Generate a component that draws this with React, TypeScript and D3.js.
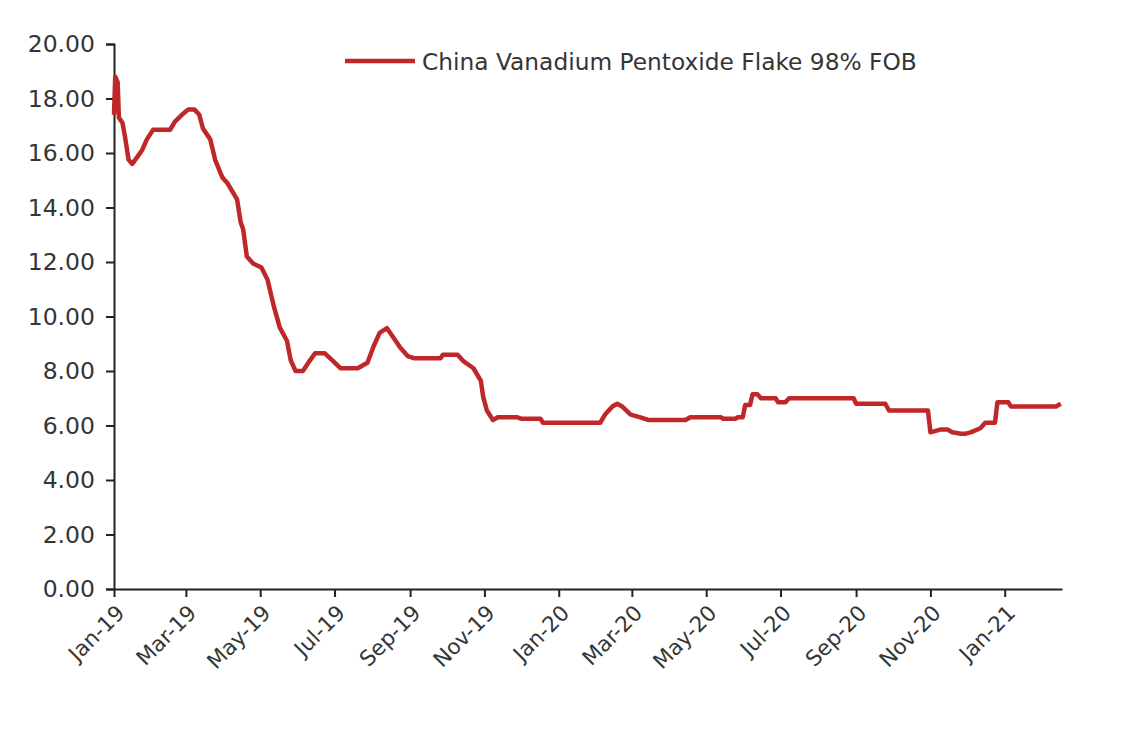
import React, { useRef, useEffect } from "react"
import * as d3 from "d3"

const SERIES_NAME = "China Vanadium Pentoxide Flake 98% FOB"

// roughly every turn of the line
const dates = [
  "2019-01-01", "2019-01-02", "2019-01-04", "2019-01-05", "2019-01-08", "2019-01-10",
  "2019-01-13", "2019-01-16", "2019-01-20", "2019-01-24", "2019-01-28", "2019-02-02",
  "2019-02-16", "2019-02-20", "2019-02-27", "2019-03-03", "2019-03-08", "2019-03-12",
  "2019-03-15", "2019-03-21", "2019-03-25", "2019-03-31", "2019-04-04", "2019-04-08",
  "2019-04-12", "2019-04-15", "2019-04-17", "2019-04-20", "2019-04-25", "2019-05-02",
  "2019-05-07", "2019-05-12", "2019-05-17", "2019-05-23", "2019-05-26", "2019-05-30",
  "2019-06-05", "2019-06-11", "2019-06-15", "2019-06-23", "2019-06-29", "2019-07-06",
  "2019-07-20", "2019-07-28", "2019-08-02", "2019-08-07", "2019-08-13", "2019-08-18",
  "2019-08-24", "2019-08-30", "2019-09-04", "2019-09-26", "2019-09-28", "2019-10-10",
  "2019-10-15", "2019-10-23", "2019-10-29", "2019-10-31", "2019-11-03", "2019-11-08",
  "2019-11-12", "2019-11-28", "2019-12-01", "2019-12-17", "2019-12-19", "2020-02-04",
  "2020-02-08", "2020-02-14", "2020-02-18", "2020-02-22", "2020-02-29", "2020-03-08",
  "2020-03-15", "2020-04-14", "2020-04-18", "2020-05-13", "2020-05-15", "2020-05-25",
  "2020-05-27", "2020-05-31", "2020-06-02", "2020-06-06", "2020-06-08", "2020-06-12",
  "2020-06-15", "2020-06-27", "2020-06-29", "2020-07-05", "2020-07-08", "2020-08-30",
  "2020-09-01", "2020-09-25", "2020-09-28", "2020-10-30", "2020-11-01", "2020-11-09",
  "2020-11-15", "2020-11-19", "2020-11-26", "2020-11-30", "2020-12-04", "2020-12-12",
  "2020-12-16", "2020-12-24", "2020-12-26", "2021-01-04", "2021-01-06", "2021-02-12",
  "2021-02-16",
]

const prices = [
  17.4, 18.8, 18.6, 17.3, 17.1, 16.6,
  15.75, 15.6, 15.85, 16.1, 16.5, 16.85,
  16.85, 17.15, 17.45, 17.6, 17.6, 17.4,
  16.9, 16.5, 15.75, 15.1, 14.9, 14.6,
  14.3, 13.45, 13.2, 12.2, 11.95, 11.8,
  11.35, 10.4, 9.6, 9.1, 8.4, 8.0,
  8.0, 8.4, 8.65, 8.65, 8.4, 8.1,
  8.1, 8.3, 8.9, 9.4, 9.57, 9.25,
  8.85, 8.55, 8.47, 8.47, 8.6, 8.6,
  8.35, 8.1, 7.65, 7.05, 6.55, 6.2,
  6.3, 6.3, 6.25, 6.25, 6.1, 6.1,
  6.4, 6.7, 6.8, 6.7, 6.4, 6.3,
  6.2, 6.2, 6.3, 6.3, 6.25, 6.25,
  6.3, 6.3, 6.75, 6.75, 7.15, 7.15,
  7.0, 7.0, 6.85, 6.85, 7.0, 7.0,
  6.8, 6.8, 6.55, 6.55, 5.75, 5.85,
  5.85, 5.75, 5.7, 5.7, 5.75, 5.9,
  6.1, 6.1, 6.85, 6.85, 6.7, 6.7,
  6.8,
]

const xTicks = [
  "2019-01-01", "2019-03-01", "2019-05-01", "2019-07-01", "2019-09-01", "2019-11-01",
  "2020-01-01", "2020-03-01", "2020-05-01", "2020-07-01", "2020-09-01", "2020-11-01",
  "2021-01-01",
]
const yTicks = [0, 2, 4, 6, 8, 10, 12, 14, 16, 18, 20]
const X_END = "2021-02-17"

const WIDTH = 1124
const HEIGHT = 733
const MARGIN = { top: 44, right: 62, bottom: 144, left: 114 }
const FONT = "'DejaVu Sans', sans-serif"
const LINE_COLOR = "#bf2729"
const TEXT_COLOR = "#353535"

type Point = { date: Date; value: number }

export default function App() {
  const svgRef = useRef<SVGSVGElement>(null)

  useEffect(() => {
    const svg = svgRef.current
    if (!svg) return

    const parse = d3.utcParse("%Y-%m-%d")
    const data: Point[] = dates.map((d, i) => ({ date: parse(d) as Date, value: prices[i] }))

    const innerW = WIDTH - MARGIN.left - MARGIN.right
    const innerH = HEIGHT - MARGIN.top - MARGIN.bottom

    d3.select(svg).selectAll("*").remove()

    const xScale = d3
      .scaleUtc()
      .domain([parse(xTicks[0]) as Date, parse(X_END) as Date])
      .range([0, innerW])
    const yScale = d3.scaleLinear().domain([0, 20]).range([innerH, 0])

    const root = d3
      .select(svg)
      .append("g")
      .attr("transform", `translate(${MARGIN.left},${MARGIN.top})`)

    // Y axis
    root
      .append("g")
      .call(
        d3
          .axisLeft(yScale)
          .tickValues(yTicks)
          .tickSize(8)
          .tickPadding(11)
          .tickFormat((d) => (d as number).toFixed(2))
      )
      .call((g) => g.select(".domain").attr("stroke", "#222").attr("stroke-width", 2))
      .call((g) => g.selectAll(".tick line").attr("stroke", "#222").attr("stroke-width", 2))
      .call((g) =>
        g.selectAll("text")
          .attr("fill", TEXT_COLOR)
          .attr("font-size", 23.5)
          .attr("font-family", FONT)
      )

    // X axis
    const fmt = d3.utcFormat("%b-%y")
    root
      .append("g")
      .attr("transform", `translate(0,${innerH})`)
      .call(
        d3
          .axisBottom(xScale)
          .tickValues(xTicks.map((t) => parse(t) as Date))
          .tickSize(8)
          .tickSizeOuter(0)
          .tickFormat((d) => fmt(d as Date))
      )
      .call((g) => g.select(".domain").attr("stroke", "#222").attr("stroke-width", 2))
      .call((g) => g.selectAll(".tick line").attr("stroke", "#222").attr("stroke-width", 2))
      .call((g) =>
        g.selectAll("text")
          .attr("fill", TEXT_COLOR)
          .attr("font-size", 21.5)
          .attr("font-family", FONT)
          .attr("text-anchor", "end")
          .attr("dy", "0.35em")
          .attr("transform", "translate(6,20) rotate(-45)")
          .attr("y", 0)
          .attr("x", 0)
      )

    // Series line
    const line = d3
      .line<Point>()
      .x((d) => xScale(d.date))
      .y((d) => yScale(d.value))

    root
      .append("path")
      .datum(data)
      .attr("fill", "none")
      .attr("stroke", LINE_COLOR)
      .attr("stroke-width", 4.5)
      .attr("stroke-linejoin", "round")
      .attr("d", line)

    // Legend
    const legend = d3.select(svg).append("g").attr("transform", "translate(345,61)")
    legend
      .append("line")
      .attr("x1", 0).attr("x2", 70)
      .attr("stroke", LINE_COLOR)
      .attr("stroke-width", 4.5)
    legend
      .append("text")
      .attr("x", 77)
      .attr("y", 8.5)
      .attr("fill", TEXT_COLOR)
      .attr("font-size", 23.3)
      .attr("font-family", FONT)
      .text(SERIES_NAME)
  }, [])

  return (
    <svg
      ref={svgRef}
      width={WIDTH}
      height={HEIGHT}
      style={{ position: "absolute", left: 0, top: 0, background: "#fff", display: "block" }}
    />
  )
}
